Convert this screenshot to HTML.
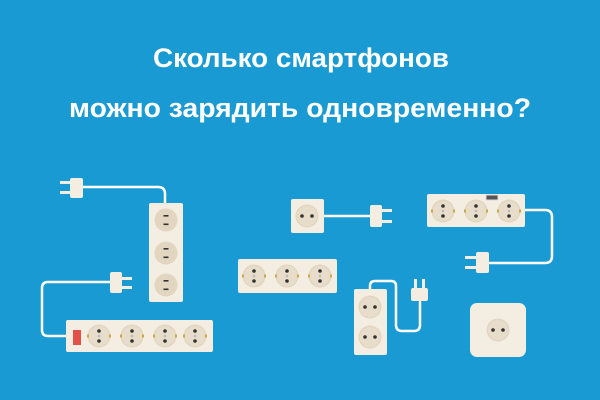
<!DOCTYPE html>
<html><head><meta charset="utf-8"><style>
html,body{margin:0;padding:0;background:#1a9ad3;}
svg{display:block}
</style></head><body>
<svg width="600" height="400" viewBox="0 0 600 400" xmlns="http://www.w3.org/2000/svg">
<rect width="600" height="400" fill="#1a9ad3"/>
<text x="301" y="67" font-family="Liberation Sans, sans-serif" font-weight="bold" font-size="27" fill="#fff" text-anchor="middle" textLength="296" lengthAdjust="spacingAndGlyphs">Сколько смартфонов</text>
<text x="300" y="117" font-family="Liberation Sans, sans-serif" font-weight="bold" font-size="27" fill="#fff" text-anchor="middle" textLength="462" lengthAdjust="spacingAndGlyphs">можно зарядить одновременно?</text>
<defs>
<g id="eu"><circle r="11.5" fill="#e3d6c0"/><circle r="10" fill="#e8dccb"/><rect x="-12" y="-1.5" width="2" height="3" fill="#c9a94e"/><rect x="10" y="-1.5" width="2" height="3" fill="#c9a94e"/><circle cx="0" cy="-5" r="1.8" fill="#333"/><circle cx="0" cy="5" r="1.8" fill="#333"/><circle r="1.3" fill="#bbb"/></g>
<g id="euh"><circle r="11.5" fill="#e3d6c0"/><circle r="10" fill="#e8dccb"/><circle cx="-5" r="1.8" fill="#333"/><circle cx="5" r="1.8" fill="#333"/></g>
<g id="us"><circle r="11.5" fill="#e3d6c0"/><rect x="-2.5" y="-5" width="5" height="1.6" fill="#333"/><rect x="-2.5" y="3.5" width="5" height="1.6" fill="#333"/></g>
</defs>
<g fill="none" stroke="#fff" stroke-width="2.5" stroke-linecap="round">
<path d="M83 187 H158 Q165 187 165 194 V203"/>
<path d="M110 282 H48 Q42 282 42 288 V330 Q42 336 48 336 H67"/>
<path d="M324 216 H370"/>
<path d="M525 210 H545 Q552 210 552 217 V256 Q552 263 545 263 H490"/>
<path d="M370 289 V286 Q370 281 375 281 H391 Q396 281 396 286 V325 Q396 331 402 331 H414 Q420 331 420 325 V302"/>
</g>
<g fill="#f3ede2">
<!-- plug1 -->
<rect x="70" y="178" width="13" height="20" rx="2"/><rect x="60" y="181" width="11" height="3"/><rect x="60" y="191" width="11" height="3"/>
<!-- plug2 -->
<rect x="110" y="272" width="12" height="21" rx="2"/><rect x="121" y="277" width="11" height="3"/><rect x="121" y="286" width="11" height="3"/>
<!-- plug3 -->
<rect x="370" y="205" width="12" height="22" rx="2"/><rect x="381" y="209" width="11" height="3"/><rect x="381" y="220" width="11" height="3"/>
<!-- plug4 -->
<rect x="476" y="252" width="13" height="21" rx="2"/><rect x="465" y="256" width="12" height="3"/><rect x="465" y="266" width="12" height="3"/>
<!-- plug5 -->
<rect x="411" y="288" width="17" height="13" rx="2"/><rect x="414" y="279" width="3" height="10"/><rect x="422" y="279" width="3" height="10"/>
<!-- strips -->
<rect x="149" y="203" width="34" height="99" rx="2"/>
<rect x="66" y="320" width="147" height="32" rx="2"/>
<rect x="291" y="199" width="33" height="34" rx="2"/>
<rect x="238" y="259" width="99" height="34" rx="2"/>
<rect x="427" y="194" width="98" height="33" rx="2"/>
<rect x="354" y="289" width="33" height="66" rx="2"/>
<rect x="470" y="303" width="56" height="54" rx="7"/>
</g>
<rect x="73" y="330" width="8" height="15" fill="#e2504a"/>
<rect x="486" y="195" width="12" height="5" fill="#555" stroke="#ddd" stroke-width="1"/>
<use href="#us" x="166" y="220"/><use href="#us" x="166" y="253"/><use href="#us" x="166" y="285"/>
<use href="#eu" x="99" y="336"/><use href="#eu" x="132" y="336"/><use href="#eu" x="165" y="336"/><use href="#eu" x="195" y="336"/>
<use href="#euh" x="307" y="216"/>
<use href="#eu" x="254" y="276"/><use href="#eu" x="287" y="276"/><use href="#eu" x="320" y="276"/>
<use href="#eu" x="443" y="211"/><use href="#eu" x="476" y="211"/><use href="#eu" x="509" y="211"/>
<use href="#euh" x="370" y="307"/><use href="#euh" x="370" y="337"/>
<use href="#euh" x="498" y="330"/>
</svg>
</body></html>
